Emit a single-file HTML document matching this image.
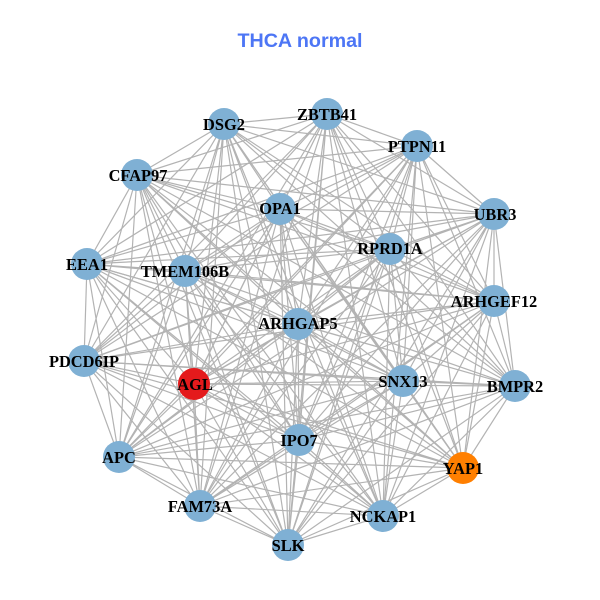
<!DOCTYPE html>
<html><head><meta charset="utf-8"><style>html,body{margin:0;padding:0;background:#fff}svg{display:block}</style></head><body>
<svg width="600" height="600" viewBox="0 0 600 600" xmlns="http://www.w3.org/2000/svg">
<rect width="600" height="600" fill="#fff"/>
<text x="300" y="47" text-anchor="middle" font-family="Liberation Sans, sans-serif" font-weight="bold" font-size="19.7" fill="#4d76f5">THCA normal</text>
<g fill="none" stroke="#b3b3b3" stroke-width="1.2">
<path d="M224 124L327 114M224 124L417 146M224 124L494 214M224 124L494 301M224 124L515 386M224 124L463 468M224 124L383 516M224 124L288 545M224 124L200 506M224 124L119 457M224 124L84 361M224 124L87 264M224 124L137 175M224 124L280 209M224 124L390 249M224 124L185 271M224 124L298 324M224 124L194 384M224 124L403 381M224 124L299 440"/>
<path d="M327 114L417 146M327 114L494 214M327 114L494 301M327 114L515 386M327 114L463 468M327 114L383 516M327 114L288 545M327 114L200 506M327 114L119 457M327 114L84 361M327 114L87 264M327 114L137 175M327 114L280 209M327 114L390 249M327 114L185 271M327 114L298 324M327 114L194 384M327 114L403 381M327 114L299 440"/>
<path d="M417 146L494 214M417 146L494 301M417 146L515 386M417 146L463 468M417 146L383 516M417 146L288 545M417 146L200 506M417 146L119 457M417 146L84 361M417 146L87 264M417 146L137 175M417 146L280 209M417 146L390 249M417 146L185 271M417 146L298 324M417 146L194 384M417 146L403 381M417 146L299 440"/>
<path d="M494 214L494 301M494 214L515 386M494 214L463 468M494 214L383 516M494 214L288 545M494 214L200 506M494 214L119 457M494 214L84 361M494 214L87 264M494 214L137 175M494 214L280 209M494 214L390 249M494 214L185 271M494 214L298 324M494 214L194 384M494 214L403 381M494 214L299 440"/>
<path d="M494 301L515 386M494 301L463 468M494 301L383 516M494 301L288 545M494 301L200 506M494 301L119 457M494 301L84 361M494 301L87 264M494 301L137 175M494 301L280 209M494 301L390 249M494 301L185 271M494 301L298 324M494 301L194 384M494 301L403 381M494 301L299 440"/>
<path d="M515 386L463 468M515 386L383 516M515 386L288 545M515 386L200 506M515 386L119 457M515 386L84 361M515 386L87 264M515 386L137 175M515 386L280 209M515 386L390 249M515 386L185 271M515 386L298 324M515 386L194 384M515 386L403 381M515 386L299 440"/>
<path d="M463 468L383 516M463 468L288 545M463 468L200 506M463 468L119 457M463 468L84 361M463 468L87 264M463 468L137 175M463 468L280 209M463 468L390 249M463 468L185 271M463 468L298 324M463 468L194 384M463 468L403 381M463 468L299 440"/>
<path d="M383 516L288 545M383 516L200 506M383 516L119 457M383 516L84 361M383 516L87 264M383 516L137 175M383 516L280 209M383 516L390 249M383 516L185 271M383 516L298 324M383 516L194 384M383 516L403 381M383 516L299 440"/>
<path d="M288 545L200 506M288 545L119 457M288 545L84 361M288 545L87 264M288 545L137 175M288 545L280 209M288 545L390 249M288 545L185 271M288 545L298 324M288 545L194 384M288 545L403 381M288 545L299 440"/>
<path d="M200 506L119 457M200 506L84 361M200 506L87 264M200 506L137 175M200 506L280 209M200 506L390 249M200 506L185 271M200 506L298 324M200 506L194 384M200 506L403 381M200 506L299 440"/>
<path d="M119 457L84 361M119 457L87 264M119 457L137 175M119 457L280 209M119 457L390 249M119 457L185 271M119 457L298 324M119 457L194 384M119 457L403 381M119 457L299 440"/>
<path d="M84 361L87 264M84 361L137 175M84 361L280 209M84 361L390 249M84 361L185 271M84 361L298 324M84 361L194 384M84 361L403 381M84 361L299 440"/>
<path d="M87 264L137 175M87 264L280 209M87 264L390 249M87 264L185 271M87 264L298 324M87 264L194 384M87 264L403 381M87 264L299 440"/>
<path d="M137 175L280 209M137 175L390 249M137 175L185 271M137 175L298 324M137 175L194 384M137 175L403 381M137 175L299 440"/>
<path d="M280 209L390 249M280 209L185 271M280 209L298 324M280 209L194 384M280 209L403 381M280 209L299 440"/>
<path d="M390 249L185 271M390 249L298 324M390 249L194 384M390 249L403 381M390 249L299 440"/>
<path d="M185 271L298 324M185 271L194 384M185 271L403 381M185 271L299 440"/>
<path d="M298 324L194 384M298 324L403 381M298 324L299 440"/>
<path d="M194 384L403 381M194 384L299 440"/>
<path d="M403 381L299 440"/>
</g>
<g fill="#7fb0d4">
<circle cx="224" cy="124" r="16"/><circle cx="327" cy="114" r="16"/><circle cx="417" cy="146" r="16"/><circle cx="494" cy="214" r="16"/><circle cx="494" cy="301" r="16"/><circle cx="515" cy="386" r="16"/><circle cx="383" cy="516" r="16"/><circle cx="288" cy="545" r="16"/><circle cx="200" cy="506" r="16"/><circle cx="119" cy="457" r="16"/><circle cx="84" cy="361" r="16"/><circle cx="87" cy="264" r="16"/><circle cx="137" cy="175" r="16"/><circle cx="280" cy="209" r="16"/><circle cx="390" cy="249" r="16"/><circle cx="185" cy="271" r="16"/><circle cx="298" cy="324" r="16"/><circle cx="403" cy="381" r="16"/><circle cx="299" cy="440" r="16"/>
<circle cx="194" cy="384" r="16" fill="#e41a1c"/><circle cx="463" cy="468" r="16" fill="#ff7f00"/>
</g>
<g font-family="Liberation Serif, serif" font-weight="bold" font-size="16.4" fill="#000" text-anchor="middle">
<text x="224" y="130">DSG2</text><text x="327" y="120">ZBTB41</text><text x="417" y="152">PTPN11</text><text x="495" y="220">UBR3</text><text x="494" y="307">ARHGEF12</text><text x="515" y="392">BMPR2</text><text x="463" y="474">YAP1</text><text x="383" y="522">NCKAP1</text><text x="288" y="551">SLK</text><text x="200" y="512">FAM73A</text><text x="119" y="463">APC</text><text x="84" y="367">PDCD6IP</text><text x="87" y="270">EEA1</text><text x="138" y="181">CFAP97</text><text x="280" y="214">OPA1</text><text x="390" y="254">RPRD1A</text><text x="185" y="277">TMEM106B</text><text x="298" y="329">ARHGAP5</text><text x="195" y="390">AGL</text><text x="403" y="387">SNX13</text><text x="299" y="446">IPO7</text>
</g>
</svg>
</body></html>
